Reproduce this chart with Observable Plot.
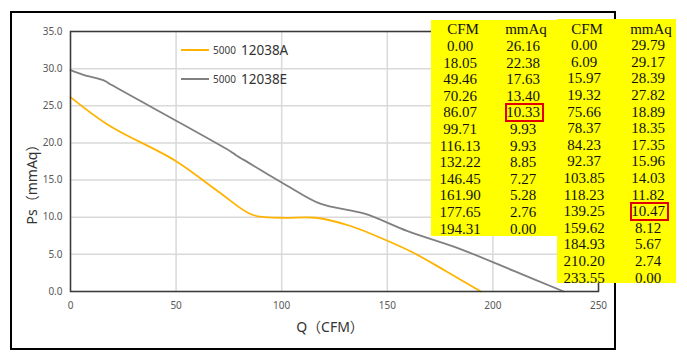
<!DOCTYPE html>
<html>
<head>
<meta charset="utf-8">
<script src="https://cdn.jsdelivr.net/npm/d3@7"></script>
<script src="https://cdn.jsdelivr.net/npm/@observablehq/plot@0.6"></script>
<style>
  html, body { margin: 0; padding: 0; background: #fff; }
  #wrap { position: relative; width: 687px; height: 362px; overflow: hidden; font-family: "Noto Sans", "Noto Sans CJK SC", sans-serif; }
  #wrap svg { position: absolute; left: 0; top: 0; }
  .abs { position: absolute; white-space: nowrap; }
  .c { transform: translate(-50%, -50%); }
  .cell { font-family: "Liberation Serif", serif; font-size: 15px; color: #111; line-height: 1; }
</style>
</head>
<body>
<div id="wrap"></div>
<script>
// ---- data ----
const seriesNames = ["5000 12038A", "5000 12038E"];
const cfmA = [0.00, 18.05, 49.46, 70.26, 86.07, 99.71, 116.13, 132.22, 146.45, 161.90, 177.65, 194.31];
const mmAqA = [26.16, 22.38, 17.63, 13.40, 10.33, 9.93, 9.93, 8.85, 7.27, 5.28, 2.76, 0.00];
const cfmE = [0.00, 6.09, 15.97, 19.32, 75.66, 78.37, 84.23, 92.37, 103.85, 118.23, 139.25, 159.62, 184.93, 210.20, 233.55];
const mmAqE = [29.79, 29.17, 28.39, 27.82, 18.89, 18.35, 17.35, 15.96, 14.03, 11.82, 10.47, 8.12, 5.67, 2.74, 0.00];
const xTicks = [0, 50, 100, 150, 200, 250];
const yTicks = [0, 5, 10, 15, 20, 25, 30, 35];
const tableHeaders = ["CFM", "mmAq"];
const highlightA = 4;   // row index of 10.33
const highlightE = 10;  // row index of 10.47

const colors = ["#FFB300", "#808080"];

const rows = [
  ...cfmA.map((x, i) => ({series: seriesNames[0], x, y: mmAqA[i]})),
  ...cfmE.map((x, i) => ({series: seriesNames[1], x, y: mmAqE[i]}))
];

const W = 687, H = 362;
const chart = Plot.plot({
  width: W, height: H,
  marginLeft: 70, marginRight: 89, marginTop: 31, marginBottom: 71,
  style: {background: "transparent", fontFamily: "'Noto Sans', sans-serif"},
  x: {domain: [0, 250]},
  y: {domain: [0, 35]},
  color: {domain: seriesNames, range: colors},
  marks: [
    Plot.gridX(xTicks, {stroke: "#d9d9d9", strokeOpacity: 1, strokeWidth: 1.5}),
    Plot.gridY(yTicks, {stroke: "#d9d9d9", strokeOpacity: 1, strokeWidth: 1.5}),
    Plot.line(rows, {x: "x", y: "y", z: "series", stroke: "series", strokeWidth: 1.8, curve: "catmull-rom"}),
    Plot.frame({stroke: "#3a3a3a", strokeWidth: 1.5}),
    Plot.axisX(xTicks, {tickSize: 0, tickPadding: 10, fontSize: 10, fill: "#595959", label: null, tickFormat: d => String(d)}),
    Plot.axisY(yTicks, {tickSize: 0, tickPadding: 8, fontSize: 10, fill: "#595959", label: null, tickFormat: d => d.toFixed(1)})
  ]
});

const wrap = document.getElementById("wrap");
wrap.appendChild(chart);

function addDiv(html, style, cls) {
  const d = document.createElement("div");
  d.className = "abs " + (cls || "");
  d.innerHTML = html;
  Object.assign(d.style, style);
  wrap.appendChild(d);
  return d;
}

// outer border
addDiv("", {left: "10px", top: "11px", width: "602px", height: "335px", border: "2.5px solid #000"});

// axis titles
addDiv("Q（CFM）", {left: "330px", top: "326px", fontSize: "14px", color: "#333"}, "c");
addDiv("Ps（mmAq）", {left: "31px", top: "181px", fontSize: "14px", color: "#333", transform: "translate(-50%,-50%) rotate(-90deg)"});

// legend
const legY = [50, 79];
seriesNames.forEach((name, i) => {
  const [pre, main] = name.split(" ");
  addDiv("", {left: "181px", top: (legY[i] - 1) + "px", width: "28px", height: "0", borderTop: "2px solid " + colors[i]});
  addDiv(pre, {left: "213px", top: legY[i] + "px", fontSize: "10px", color: "#404040", transform: "translateY(-50%)"});
  addDiv(main, {left: "241px", top: legY[i] + "px", fontSize: "13.5px", color: "#333", transform: "translateY(-50%)"});
});

// tables
function drawTable(cfm, mm, box, colX, y0, hl) {
  addDiv("", {left: box[0] + "px", top: box[1] + "px", width: (box[2] - box[0]) + "px", height: (box[3] - box[1]) + "px", background: "#FFFF00"});
  const pitch = 16.6;
  addDiv(tableHeaders[0], {left: (colX[0] + 3) + "px", top: y0 + "px"}, "c cell");
  addDiv(tableHeaders[1], {left: (colX[1] + 3) + "px", top: y0 + "px"}, "c cell");
  cfm.forEach((v, i) => {
    const y = y0 + pitch * (i + 1);
    addDiv(v.toFixed(2), {left: colX[0] + "px", top: y + "px"}, "c cell");
    addDiv(mm[i].toFixed(2), {left: colX[1] + "px", top: y + "px"}, "c cell");
    if (i === hl) {
      addDiv("", {left: (colX[1] - 18) + "px", top: (y - 9.5) + "px", width: "35px", height: "15px", border: "2px solid #E00000"});
    }
  });
}
drawTable(cfmA, mmAqA, [431, 20, 557, 236], [460, 523], 29.3, highlightA);
drawTable(cfmE, mmAqE, [557, 19, 676, 283], [584, 648], 28.5, highlightE);
</script>
</body>
</html>
